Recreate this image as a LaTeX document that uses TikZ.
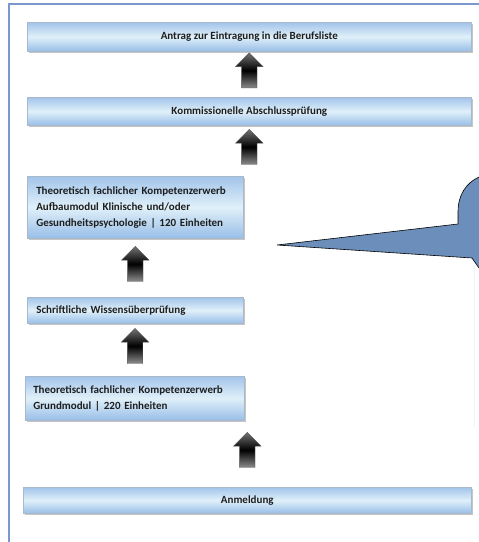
\documentclass[tikz,border=0pt]{standalone}
\usepackage{fontspec}
\setmainfont{Carlito}
\usetikzlibrary{shapes.arrows,shadows,calc}
\definecolor{framecol}{HTML}{7A98CE}
\definecolor{boxtop}{HTML}{A2C4EA}
\definecolor{boxmid}{HTML}{E0F0F9}
\definecolor{boxbot}{HTML}{98BEE8}
\definecolor{boxline}{HTML}{A9B9C9}
\definecolor{calloutcol}{HTML}{6C8EBA}
\definecolor{textcol}{HTML}{1E1E1E}
\begin{document}
\begin{tikzpicture}[x=1pt,y=-1pt,
    stepbox/.style={draw=boxline, line width=0.6pt, top color=boxtop, bottom color=boxbot,
        middle color=boxmid, anchor=north west, inner sep=0pt, text=textcol,
        font=\fontsize{11}{16}\selectfont\bfseries,
        drop shadow={shadow xshift=1.5pt, shadow yshift=-1.5pt, fill=black!45, opacity=.5}},
    leftbox/.style={align=left, text width=#1, inner xsep=9pt},
    uparrow/.style={single arrow, shape border rotate=90, draw=black!70, line width=0.4pt,
        minimum height=35pt, single arrow head extend=6pt,
        single arrow head indent=0pt, inner xsep=7.5pt, inner ysep=0pt,
        top color=black!55, bottom color=black!45, middle color=black}]
    \useasboundingbox (0,0) rectangle (479,542);

    \draw[framecol, line width=2pt] (9,542) -- (9,4) -- (479,4);

    \node[stepbox, minimum width=444pt, minimum height=29pt] (antrag) at (27,22)
        {Antrag zur Eintragung in die Berufsliste};
    \node[stepbox, minimum width=444pt, minimum height=28pt] (kommission) at (27,97)
        {Kommissionelle Abschlussprüfung};
    \node[stepbox, leftbox=198pt, minimum height=62pt] (aufbau) at (27,176)
        {Theoretisch fachlicher Kompetenzerwerb\\Aufbaumodul Klinische und/oder\\Gesundheitspsychologie | 120 Einheiten};
    \node[stepbox, leftbox=198pt, minimum height=26pt] (schriftlich) at (27,297)
        {Schriftliche Wissensüberprüfung};
    \node[stepbox, leftbox=203pt, inner xsep=8pt, minimum height=44pt] (grundmodul) at (25,376)
        {Theoretisch fachlicher Kompetenzerwerb\\Grundmodul | 220 Einheiten};
    \node[stepbox, minimum width=448pt, minimum height=26pt] (anmeldung) at (23,487)
        {Anmeldung};

    \node[uparrow] (pfeil1) at ($(antrag.south)!.5!(kommission.north)$) {};
    \node[uparrow] (pfeil2) at ($(kommission.south)!.5!(kommission.south |- aufbau.north)$) {};
    \node[uparrow] (pfeil3) at ($(aufbau.south)!.5!(schriftlich.north)$) {};
    \node[uparrow] (pfeil4) at ($(schriftlich.south)!.5!(grundmodul.north)$) {};
    \node[uparrow] (pfeil5) at ($(grundmodul.south -| anmeldung.north)!.5!(anmeldung.north)$) {};

    \fill[calloutcol] (479,177) .. controls (466,183) and (458,195) .. (458,212)
        -- (458,224) -- (277,245) -- (472,258) -- (479,268) -- cycle;
    \draw[line width=0.6pt] (479,177) .. controls (466,183) and (458,195) .. (458,212)
        -- (458,224) -- (277,245) -- (472,258) -- (479,268);
    \draw[blue!6] (474,268) -- (474,427);
\end{tikzpicture}
\end{document}
